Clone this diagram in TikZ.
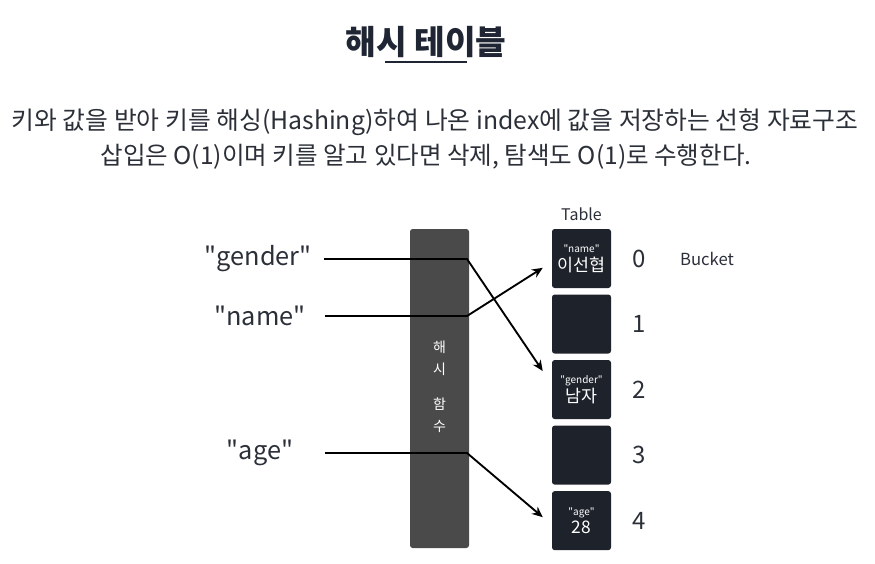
\documentclass[tikz,border=0pt]{standalone}
\usepackage{fontspec}
\setmainfont{Noto Sans CJK KR}
\usetikzlibrary{arrows.meta,positioning}
\definecolor{titlenavy}{HTML}{1F2533}
\definecolor{textgray}{HTML}{2B2F38}
\definecolor{barfill}{HTML}{4A4A4A}
\definecolor{cellfill}{HTML}{1E222B}
\newcommand{\dq}[1]{\textquotedbl#1\textquotedbl}

\begin{document}
\begin{tikzpicture}[x=0.75pt, y=-0.75pt,
    keytext/.style={font=\fontsize{19}{22}\selectfont, text=textgray, inner sep=0pt},
    cell/.style={fill=cellfill, rounded corners=2pt, minimum width=44.25pt, minimum height=44.25pt, inner sep=0pt, align=center, text=white, font=\fontsize{13}{15}\selectfont},
    idx/.style={font=\fontsize{18}{20}\selectfont, text=textgray, inner sep=0pt},
    link/.style={line width=1.4pt, black},
    arr/.style={link, -{Stealth[length=8pt, width=7pt]}}
]
    % Cornice
    \useasboundingbox (0,0) rectangle (875,564);

    % Titolo e descrizione
    \node[font=\fontsize{25}{29}\selectfont\bfseries, text=titlenavy] (title) at (426,42) {해시 테이블};
    \draw[titlenavy, line width=1.5pt] (385,62) -- (467,62);
    \node[font=\fontsize{18.6}{22}\selectfont, text=textgray] (line1) at (435,122) {키와 값을 받아 키를 해싱(Hashing)하여 나온 index에 값을 저장하는 선형 자료구조};
    \node[font=\fontsize{18.4}{22}\selectfont, text=textgray] (line2) at (426,157) {삽입은 O(1)이며 키를 알고 있다면 삭제, 탐색도 O(1)로 수행한다.};

    % Funzione hash
    \node[fill=barfill, rounded corners=2pt, minimum width=44.25pt, minimum height=239.25pt, inner sep=0pt] (hash) at (439.5,388.5) {};
    \node[font=\fontsize{10.5}{16.5}\selectfont, text=white, align=center] (hashtext) at (439.5,387) {해\\시\\[10pt]함\\수};

    % Chiavi
    \node[keytext, anchor=east] (gender) at (312,259) {\dq{gender}};
    \node[keytext] (name) at (260,316) {\dq{name}};
    \node[keytext] (age) at (260,453) {\dq{age}};

    % Tabella
    \node[cell] (b0) at (581.5,258.5) {{\fontsize{7.5}{9}\selectfont \dq{name}}\\[-1pt]이선협};
    \node[cell, below=4.5pt of b0] (b1) {};
    \node[cell, below=4.5pt of b1] (b2) {{\fontsize{7.5}{9}\selectfont \dq{gender}}\\[-1pt]남자};
    \node[cell, below=4.5pt of b2] (b3) {};
    \node[cell, below=4.5pt of b3] (b4) {{\fontsize{7.5}{9}\selectfont \dq{age}}\\[-1pt]28};
    \node[font=\fontsize{12}{14}\selectfont, text=textgray, inner sep=0pt, above=6pt of b0] (table) {Table};

    % Indici
    \node[idx, right=16pt of b0] (i0) {0};
    \node[idx, right=16pt of b1] (i1) {1};
    \node[idx, right=16pt of b2] (i2) {2};
    \node[idx, right=16pt of b3] (i3) {3};
    \node[idx, right=16pt of b4] (i4) {4};
    \node[font=\fontsize{12.5}{14}\selectfont, text=textgray, inner sep=0pt, right=25pt of i0] (bucket) {Bucket};

    % Collegamenti
    \coordinate (gbend) at (467,259);
    \coordinate (nbend) at (467,316);
    \coordinate (abend) at (467,453);
    \draw[arr] ([xshift=9pt]gender.east) -- (gbend) -- ([shift={(-6.75pt,13.9pt)}]b2.west);
    \draw[arr] (nbend -| 325,0) -- (nbend) -- ([shift={(-6.75pt,-7pt)}]b0.west);
    \draw[arr] (abend -| 325,0) -- (abend) -- ([shift={(-6.75pt,2.6pt)}]b4.west);
\end{tikzpicture}
\end{document}
